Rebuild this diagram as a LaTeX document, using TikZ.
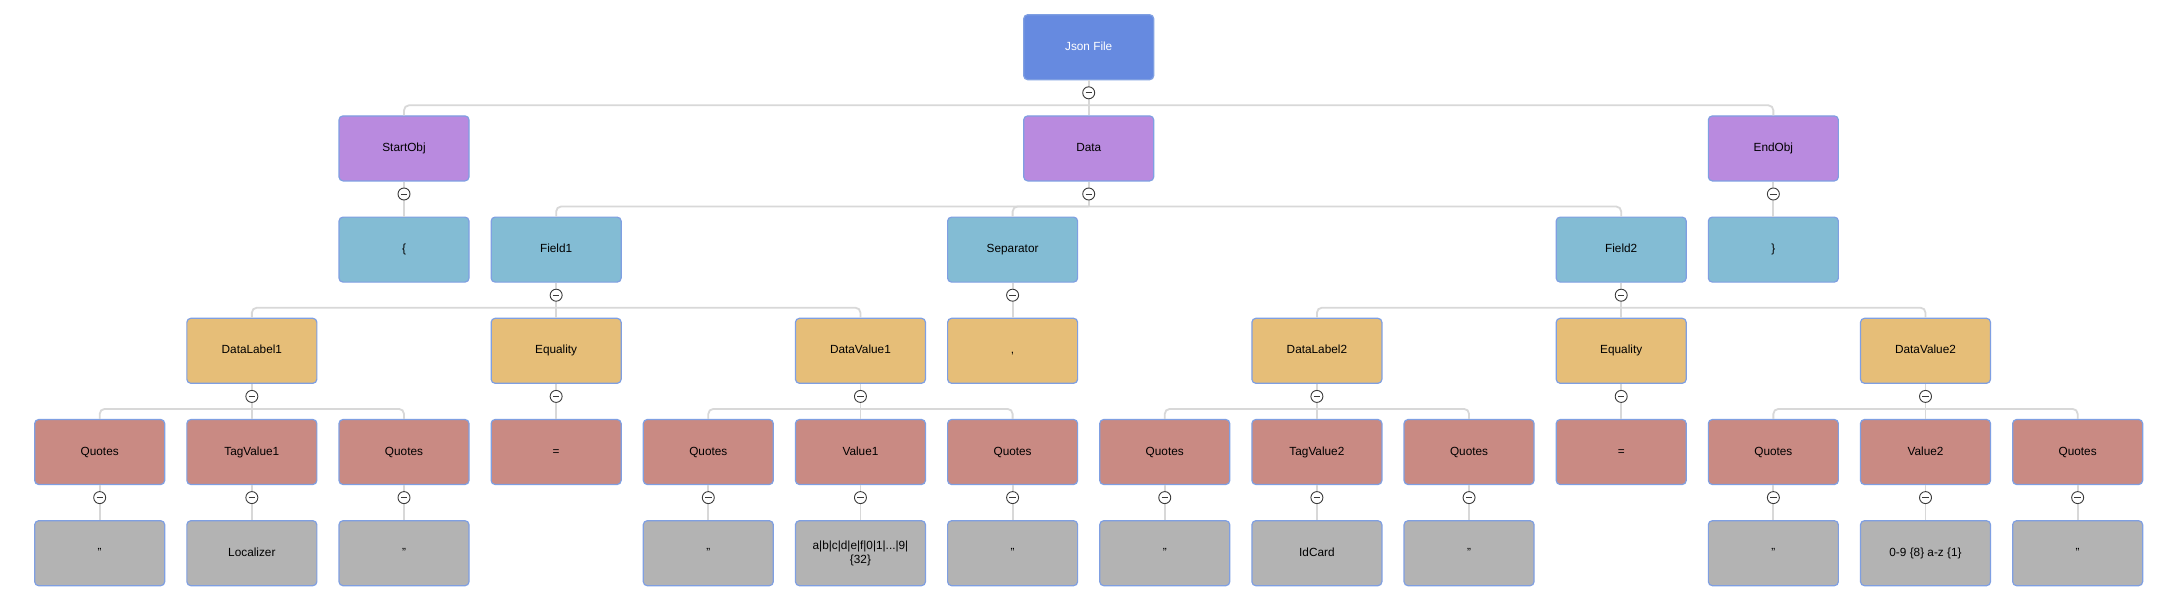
\documentclass[tikz,border=0pt]{standalone}
\usepackage{fontspec}
\setmainfont{Liberation Sans}
\begin{document}
\begin{tikzpicture}[x=1pt,y=1pt,
  box/.style={rectangle,rounded corners=4pt,draw=bordc,line width=1.2pt,minimum width=130pt,minimum height=65pt,inner sep=2pt,align=center,text=black,text height=8.6pt,text depth=2.4pt,font=\fontsize{11.8}{13.5}\selectfont},
  jf/.style={box,fill=cjf,text=white},
  pur/.style={box,fill=cpur},
  lb/.style={box,fill=clb},
  org/.style={box,fill=corg},
  red/.style={box,fill=cred},
  gry/.style={box,fill=cgry},
  conn/.style={draw=linec,line width=1.8pt,rounded corners=5pt},
  tog/.style={circle,draw=togc,fill=white,line width=0.9pt,minimum size=12pt,inner sep=0pt,
    path picture={\draw[togc,line width=1pt] ([xshift=-3.2pt]path picture bounding box.center) -- ([xshift=3.2pt]path picture bounding box.center);}}
]
\definecolor{bordc}{HTML}{7F9FE2}
\definecolor{cjf}{HTML}{668AE0}
\definecolor{cpur}{HTML}{B98ADF}
\definecolor{clb}{HTML}{83BCD4}
\definecolor{corg}{HTML}{E6BE78}
\definecolor{cred}{HTML}{C98A83}
\definecolor{cgry}{HTML}{B3B3B3}
\definecolor{linec}{HTML}{D8D8D8}
\definecolor{togc}{HTML}{3A3A3A}
\useasboundingbox[fill=white] (0,0) rectangle (2163,-608);

\newcommand{\busdown}[2]{%
  \coordinate (#1-b) at ([yshift=-25pt]#1.south);
  \draw[conn] (#1.south) -- (#1-b);
  \foreach \c in {#2} {\draw[conn] (#1-b) -| (\c.north);}
}
\newcommand{\togat}[1]{\node[tog] (#1-t) at ([yshift=-12.5pt]#1.south) {};}

% row 0
\node[jf] (json) at (1088.7,-47.2) {Json File};
% row 1
\node[pur] (start) at (404.0,-148.4) {StartObj};
\node[pur] (data) at (1088.7,-148.4) {Data};
\node[pur] (end) at (1773.35,-148.4) {EndObj};
% row 2
\node[lb] (lbr) at (404.0,-249.6) {\{};
\node[lb] (f1) at (556.15,-249.6) {Field1};
\node[lb] (sep) at (1012.6,-249.6) {Separator};
\node[lb] (f2) at (1621.2,-249.6) {Field2};
\node[lb] (rbr) at (1773.35,-249.6) {\}};
% row 3
\node[org] (dl1) at (251.85,-350.8) {DataLabel1};
\node[org] (eq1) at (556.15,-350.8) {Equality};
\node[org] (dv1) at (860.45,-350.8) {DataValue1};
\node[org] (comma) at (1012.6,-350.8) {,};
\node[org] (dl2) at (1316.9,-350.8) {DataLabel2};
\node[org] (eq2) at (1621.2,-350.8) {Equality};
\node[org] (dv2) at (1925.5,-350.8) {DataValue2};
% row 4
\node[red] (q1) at (99.7,-452) {Quotes};
\node[red] (tv1) at (251.85,-452) {TagValue1};
\node[red] (q2) at (404.0,-452) {Quotes};
\node[red] (eqs1) at (556.15,-452) {=};
\node[red] (q3) at (708.3,-452) {Quotes};
\node[red] (v1) at (860.45,-452) {Value1};
\node[red] (q4) at (1012.6,-452) {Quotes};
\node[red] (q5) at (1164.75,-452) {Quotes};
\node[red] (tv2) at (1316.9,-452) {TagValue2};
\node[red] (q6) at (1469.05,-452) {Quotes};
\node[red] (eqs2) at (1621.2,-452) {=};
\node[red] (q7) at (1773.35,-452) {Quotes};
\node[red] (v2) at (1925.5,-452) {Value2};
\node[red] (q8) at (2077.65,-452) {Quotes};
% row 5
\node[gry] (l1) at (99.7,-553.2) {"};
\node[gry] (l2) at (251.85,-553.2) {Localizer};
\node[gry] (l3) at (404.0,-553.2) {"};
\node[gry] (l4) at (708.3,-553.2) {"};
\node[gry,text height=,text depth=] (l5) at (860.45,-553.2) {a|b|c|d|e|f|0|1|...|9|\\\{32\}};
\node[gry] (l6) at (1012.6,-553.2) {"};
\node[gry] (l7) at (1164.75,-553.2) {"};
\node[gry] (l8) at (1316.9,-553.2) {IdCard};
\node[gry] (l9) at (1469.05,-553.2) {"};
\node[gry] (l10) at (1773.35,-553.2) {"};
\node[gry] (l11) at (1925.5,-553.2) {0-9 \{8\} a-z \{1\}};
\node[gry] (l12) at (2077.65,-553.2) {"};

% connectors
\busdown{json}{start,data,end}
\busdown{data}{f1,sep,f2}
\draw[conn] (start.south) -- (lbr.north);
\draw[conn] (end.south) -- (rbr.north);
\busdown{f1}{dl1,eq1,dv1}
\draw[conn] (sep.south) -- (comma.north);
\busdown{f2}{dl2,eq2,dv2}
\busdown{dl1}{q1,tv1,q2}
\draw[conn] (eq1.south) -- (eqs1.north);
\busdown{dv1}{q3,v1,q4}
\busdown{dl2}{q5,tv2,q6}
\draw[conn] (eq2.south) -- (eqs2.north);
\busdown{dv2}{q7,v2,q8}
\draw[conn] (q1.south) -- (l1.north);
\draw[conn] (tv1.south) -- (l2.north);
\draw[conn] (q2.south) -- (l3.north);
\draw[conn] (q3.south) -- (l4.north);
\draw[conn] (v1.south) -- (l5.north);
\draw[conn] (q4.south) -- (l6.north);
\draw[conn] (q5.south) -- (l7.north);
\draw[conn] (tv2.south) -- (l8.north);
\draw[conn] (q6.south) -- (l9.north);
\draw[conn] (q7.south) -- (l10.north);
\draw[conn] (v2.south) -- (l11.north);
\draw[conn] (q8.south) -- (l12.north);

% toggles
\foreach \p in {json,start,data,end,f1,sep,f2,dl1,eq1,dv1,dl2,eq2,dv2,q1,tv1,q2,q3,v1,q4,q5,tv2,q6,q7,v2,q8} {\togat{\p}}
\end{tikzpicture}
\end{document}
